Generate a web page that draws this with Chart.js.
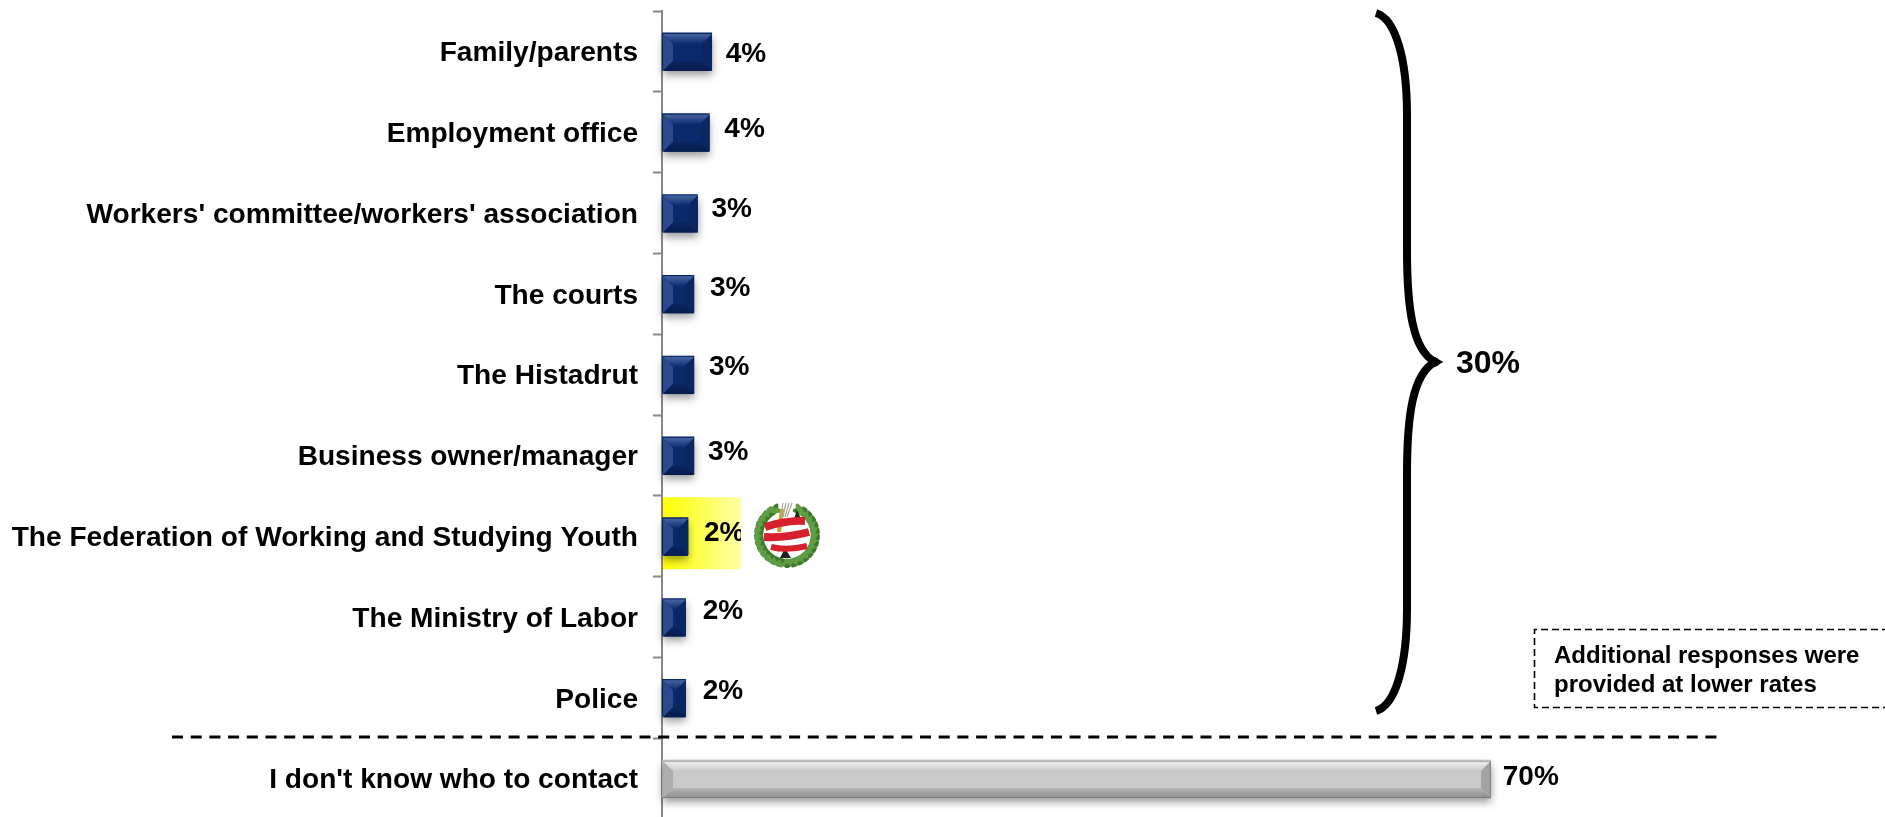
<!DOCTYPE html>
<html>
<head>
<meta charset="utf-8">
<title>Who to contact</title>
<script src="https://cdn.jsdelivr.net/npm/chart.js@4"></script>
<style>
  html, body { margin: 0; padding: 0; background: #fff; overflow: hidden; height: 817px; }
  canvas { display: block; }
</style>
</head>
<body>
<canvas id="contactChart" width="1885" height="819"></canvas>
<script>
const categories = [
  "Family/parents",
  "Employment office",
  "Workers' committee/workers' association",
  "The courts",
  "The Histadrut",
  "Business owner/manager",
  "The Federation of Working and Studying Youth",
  "The Ministry of Labor",
  "Police",
  "I don't know who to contact",
];
const seriesValues = [4.2, 4.0, 3.0, 2.7, 2.7, 2.7, 2.2, 2.0, 2.0, 70];
const valueLabels = ["4%", "4%", "3%", "3%", "3%", "3%", "2%", "2%", "2%", "70%"];
const groupLabel = "30%";
const noteLines = ["Additional responses were", "provided at lower rates"];

// the labels sit a little off the bars in the original, [dx, dy] from bar end
const labelNudge = [
  [14, 3], [15, -3], [14, -4], [16, -6], [15, -7],
  [14, -3], [16, -3], [17, -6], [17, -7], [12, -1],
];
const FONT = '"Liberation Sans", Arial, sans-serif';
const HIGHLIGHT_INDEX = 6;

const blue = { face: "#0b2a6e", topA: "#46659f", left: "#2a4a8c", right: "#0a2663", bottomA: "#0a2560", bottomB: "#071c4e" };
const grey = { face: "#c9c9c9", topA: "#f2f2f2", left: "#adadad", right: "#a3a3a3", bottomA: "#b4b4b4", bottomB: "#8c8c8c" };

function poly(ctx, pts, fill) {
  ctx.beginPath();
  ctx.moveTo(pts[0][0], pts[0][1]);
  for (let i = 1; i < pts.length; ++i) ctx.lineTo(pts[i][0], pts[i][1]);
  ctx.closePath();
  ctx.fillStyle = fill;
  ctx.fill();
}

function drawBevel(ctx, bar, c, isGrey) {
  const l = bar.base + 1, r = bar.x, t = bar.y - bar.height / 2 + 1, b = bar.y + bar.height / 2 + 1;
  const d = 10;
  const dx = Math.min(d, (r - l) / 2);

  ctx.save();
  ctx.shadowColor = "rgba(0,0,0,0.4)";
  ctx.shadowBlur = 8;
  ctx.shadowOffsetY = 4;
  ctx.fillStyle = c.face;
  ctx.fillRect(l, t, r - l, b - t);
  ctx.restore();

  const top = ctx.createLinearGradient(0, t, 0, t + d);
  top.addColorStop(0, c.topA);
  top.addColorStop(1, c.face);
  const bottom = ctx.createLinearGradient(0, b - d, 0, b);
  bottom.addColorStop(0, c.bottomA);
  bottom.addColorStop(1, c.bottomB);

  poly(ctx, [[l, t], [l + dx, t + d], [l + dx, b - d], [l, b]], c.left);
  poly(ctx, [[r, t], [r - dx, t + d], [r - dx, b - d], [r, b]], c.right);
  poly(ctx, [[l, t], [r, t], [r - dx, t + d], [l + dx, t + d]], top);
  poly(ctx, [[l, b], [r, b], [r - dx, b - d], [l + dx, b - d]], bottom);
  ctx.fillStyle = c.face;
  ctx.fillRect(l + dx, t + d, r - l - 2 * dx, b - t - 2 * d);

  if (isGrey) {
    ctx.fillStyle = "#adadad";
    ctx.fillRect(l, t, r - l, 1);
    ctx.fillStyle = "#7f7f7f";
    ctx.fillRect(r - 1, t, 1, b - t);
    ctx.fillRect(l, b - 1, r - l, 1);
  }
}

function drawEmblem(ctx, cx, cy) {
  ctx.save();
  ctx.fillStyle = "#fff";
  ctx.fillRect(cx - 46, cy - 38, 92, 72);

  // wreath, two rows of leaves each side
  for (const side of [-1, 1]) {
    for (let a = 8; a <= 152; a += 12) {
      const rad = a * Math.PI / 180;
      for (const lean of [-0.55, 0.55]) {
        const x = cx + side * 28 * Math.sin(rad);
        const y = cy + 28 * Math.cos(rad);
        ctx.save();
        ctx.translate(x, y);
        ctx.rotate(side * (Math.PI / 2 - rad) + lean);
        ctx.beginPath();
        ctx.ellipse(0, 0, 3, 7.5, 0, 0, Math.PI * 2);
        ctx.fillStyle = lean < 0 ? "#3a7a2a" : "#5f9d45";
        ctx.fill();
        ctx.restore();
      }
    }
  }

  // wheat
  ctx.strokeStyle = "#c9a227";
  ctx.lineWidth = 4;
  ctx.beginPath();
  ctx.moveTo(cx - 8, cy - 3);
  ctx.lineTo(cx - 5, cy - 26);
  ctx.stroke();
  ctx.strokeStyle = "#a9a999";
  ctx.lineWidth = 1.2;
  for (let i = 0; i < 4; ++i) {
    ctx.beginPath();
    ctx.moveTo(cx - 6 + i * 2, cy - 18);
    ctx.lineTo(cx - 4 + i * 3, cy - 32);
    ctx.stroke();
  }

  // black tips
  poly(ctx, [[cx + 7, cy - 16], [cx + 10, cy - 25], [cx + 14, cy - 16]], "#222");
  poly(ctx, [[cx - 7, cy + 23], [cx - 2, cy + 13], [cx + 4, cy + 23]], "#222");

  // ribbon
  ctx.strokeStyle = "#d7202e";
  ctx.lineWidth = 8;
  ctx.beginPath();
  ctx.moveTo(cx - 22, cy - 8);
  ctx.quadraticCurveTo(cx, cy - 15, cx + 18, cy - 14);
  ctx.stroke();
  ctx.beginPath();
  ctx.moveTo(cx - 23, cy + 2);
  ctx.quadraticCurveTo(cx, cy + 3, cx + 22, cy - 3);
  ctx.stroke();
  ctx.lineWidth = 6;
  ctx.beginPath();
  ctx.moveTo(cx - 16, cy + 12);
  ctx.quadraticCurveTo(cx, cy + 16, cx + 20, cy + 11);
  ctx.stroke();
  ctx.restore();
}

function drawBrace(ctx) {
  ctx.save();
  ctx.strokeStyle = "#000";
  ctx.lineWidth = 8;
  ctx.beginPath();
  ctx.moveTo(1376, 13);
  ctx.bezierCurveTo(1396, 19, 1407, 60, 1407, 115);
  ctx.lineTo(1407, 250);
  ctx.bezierCurveTo(1407, 310, 1413, 350, 1435, 362);
  ctx.bezierCurveTo(1413, 374, 1407, 414, 1407, 474);
  ctx.lineTo(1407, 609);
  ctx.bezierCurveTo(1407, 664, 1396, 705, 1376, 711);
  ctx.stroke();
  ctx.beginPath();
  ctx.arc(1435, 362, 4.5, 0, Math.PI * 2);
  ctx.fillStyle = "#000";
  ctx.fill();
  ctx.restore();
}

const decorPlugin = {
  id: "decor",
  beforeDatasetsDraw(chart) {
    const ctx = chart.ctx;
    const y = chart.scales.y;
    const x = chart.scales.x;
    // yellow band behind the highlighted row
    const cy = y.getPixelForValue(HIGHLIGHT_INDEX);
    const left = x.getPixelForValue(0) + 1;
    const g = ctx.createLinearGradient(left, 0, 741, 0);
    g.addColorStop(0, "#ffff00");
    g.addColorStop(1, "#ffffa8");
    ctx.fillStyle = g;
    ctx.fillRect(left, cy - 39, 741 - left, 72);
  },
  afterDatasetsDraw(chart) {
    const ctx = chart.ctx;
    const bars = chart.getDatasetMeta(0).data;
    bars.forEach(function (bar, i) {
      const last = i === categories.length - 1;
      drawBevel(ctx, bar, last ? grey : blue, last);
    });

    ctx.save();
    ctx.fillStyle = "#000";
    ctx.textBaseline = "middle";
    ctx.textAlign = "left";
    ctx.font = "bold 28px " + FONT;
    bars.forEach(function (bar, i) {
      ctx.fillText(valueLabels[i], bar.x + labelNudge[i][0], bar.y + labelNudge[i][1]);
    });
    ctx.restore();

    drawEmblem(ctx, 787, 535);
    drawBrace(ctx);

    ctx.save();
    ctx.fillStyle = "#000";
    ctx.textBaseline = "middle";
    ctx.font = "bold 32px " + FONT;
    ctx.fillText(groupLabel, 1456, 364);

    // separator above the last row
    ctx.strokeStyle = "#000";
    ctx.lineWidth = 3;
    ctx.setLineDash([11, 7.7]);
    ctx.beginPath();
    ctx.moveTo(172, 737);
    ctx.lineTo(1724, 737);
    ctx.stroke();

    // note box, runs off the right edge
    ctx.lineWidth = 1.6;
    ctx.setLineDash([7, 4]);
    ctx.beginPath();
    ctx.moveTo(1900, 629.5);
    ctx.lineTo(1534.5, 629.5);
    ctx.lineTo(1534.5, 707.5);
    ctx.lineTo(1900, 707.5);
    ctx.stroke();
    ctx.setLineDash([]);

    ctx.textBaseline = "alphabetic";
    ctx.font = "bold 24px " + FONT;
    ctx.fillText(noteLines[0], 1554, 663);
    ctx.fillText(noteLines[1], 1554, 692);
    ctx.restore();
  },
};

new Chart(document.getElementById("contactChart"), {
  type: "bar",
  data: {
    labels: categories,
    datasets: [
      {
        data: seriesValues,
        backgroundColor: categories.map((c, i) => (i === categories.length - 1 ? grey.face : blue.face)),
        borderWidth: 0,
        barThickness: 37,
      },
    ],
  },
  options: {
    indexAxis: "y",
    responsive: false,
    animation: false,
    layout: { padding: { top: 11, right: 0, bottom: 0, left: 0 } },
    plugins: { legend: { display: false }, tooltip: { enabled: false } },
    scales: {
      x: { display: false, min: 0, max: 103.3 },
      y: {
        afterFit(scale) {
          scale.width = 662;
          scale.paddingTop = 0;
          scale.paddingBottom = 0;
        },
        border: { color: "#878787", width: 2 },
        grid: {
          drawOnChartArea: false,
          offset: true,
          color: "#878787",
          tickLength: 9,
          tickWidth: 2,
        },
        ticks: {
          color: "#000",
          padding: 15,
          labelOffset: 2,
          autoSkip: false,
          font: { family: FONT, size: 28.1, weight: "bold" },
        },
      },
    },
  },
  plugins: [decorPlugin],
});
</script>
</body>
</html>
